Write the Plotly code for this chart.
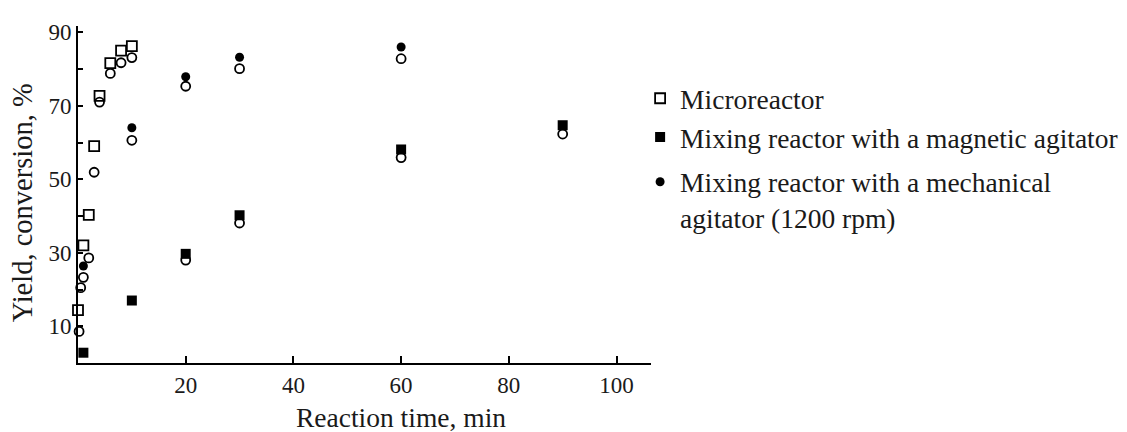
import plotly.graph_objects as go

# ---- data ----
micro_t = [0, 1, 2, 3, 4, 6, 8, 10]
micro_y = [14.4, 32, 40.3, 59, 72.7, 81.6, 85, 86.2]

magnetic_t = [1, 10, 20, 30, 60, 90]
magnetic_y = [2.8, 17, 29.7, 40.2, 58.1, 64.7]

mechanical_t = [1, 10, 20, 30, 60]
mechanical_y = [26.4, 64, 77.9, 83.2, 86]

open_t = [0.2, 0.5, 1, 2, 3, 4, 6, 8, 10, 10, 20, 20, 30, 30, 60, 60, 90]
open_y = [8.6, 20.5, 23.3, 28.6, 51.9, 71, 78.8, 81.7, 83.1, 60.6, 75.3, 28, 80.1, 38.1, 82.8, 55.9, 62.3]

names = ["Microreactor",
         "Mixing reactor with a magnetic agitator",
         "Mixing reactor with a mechanical<br>agitator (1200 rpm)"]

x_ticks = [20, 40, 60, 80, 100]
y_ticks = [10, 20, 30, 40, 50, 60, 70, 80, 90]
y_ticktext = ["10", "", "30", "", "50", "", "70", "", "90"]

FONT = "Liberation Serif"
INK = "#1a1a1a"

fig = go.Figure()
fig.add_trace(go.Scatter(x=open_t, y=open_y, mode="markers", showlegend=False,
                         marker=dict(symbol="circle-open", size=9, color="black",
                                     line=dict(width=1.8, color="black")),
                         cliponaxis=False))
fig.add_trace(go.Scatter(x=micro_t, y=micro_y, mode="markers", name=names[0],
                         legendgroup="a",
                         marker=dict(symbol="square-open", size=10, color="black",
                                     line=dict(width=1.8, color="black")),
                         cliponaxis=False))
fig.add_trace(go.Scatter(x=magnetic_t, y=magnetic_y, mode="markers", name=names[1],
                         legendgroup="a",
                         marker=dict(symbol="square", size=10, color="black"),
                         cliponaxis=False))
fig.add_trace(go.Scatter(x=mechanical_t, y=mechanical_y, mode="markers", name=names[2],
                         legendgroup="b",
                         marker=dict(symbol="circle", size=9, color="black"),
                         cliponaxis=False))

fig.update_layout(
    width=1127, height=432,
    margin=dict(l=70, r=480, t=12, b=77),
    plot_bgcolor="white", paper_bgcolor="white",
    font=dict(family=FONT, size=23, color=INK),
    legend=dict(x=0.981, y=0.858, xanchor="left", yanchor="top",
                font=dict(family=FONT, size=27.5, color=INK),
                valign="top", tracegroupgap=6, itemwidth=30,
                bgcolor="rgba(0,0,0,0)"),
    xaxis=dict(range=[0, 106.4], showline=True, linecolor="black", linewidth=2,
               showgrid=False, zeroline=False, ticks="inside", ticklen=7,
               tickwidth=2, tickcolor="black", tickvals=x_ticks,
               tickfont=dict(size=23)),
    yaxis=dict(range=[0, 91.7], showline=True, linecolor="black", linewidth=2,
               showgrid=False, zeroline=False, ticks="inside", ticklen=5,
               tickwidth=2, tickcolor="black", tickvals=y_ticks,
               ticktext=y_ticktext, tickfont=dict(size=23)),
    annotations=[
        dict(text="Reaction time, min", xref="paper", yref="paper",
             x=0.563, y=-0.163, xanchor="center", yanchor="middle", showarrow=False,
             font=dict(family=FONT, size=27.5, color=INK)),
        dict(text="Yield, conversion, %", xref="paper", yref="paper",
             x=-0.0953, y=0.475, xanchor="center", yanchor="middle", showarrow=False,
             textangle=-90, font=dict(family=FONT, size=28.5, color=INK)),
    ],
)

fig.write_html("out.html")
